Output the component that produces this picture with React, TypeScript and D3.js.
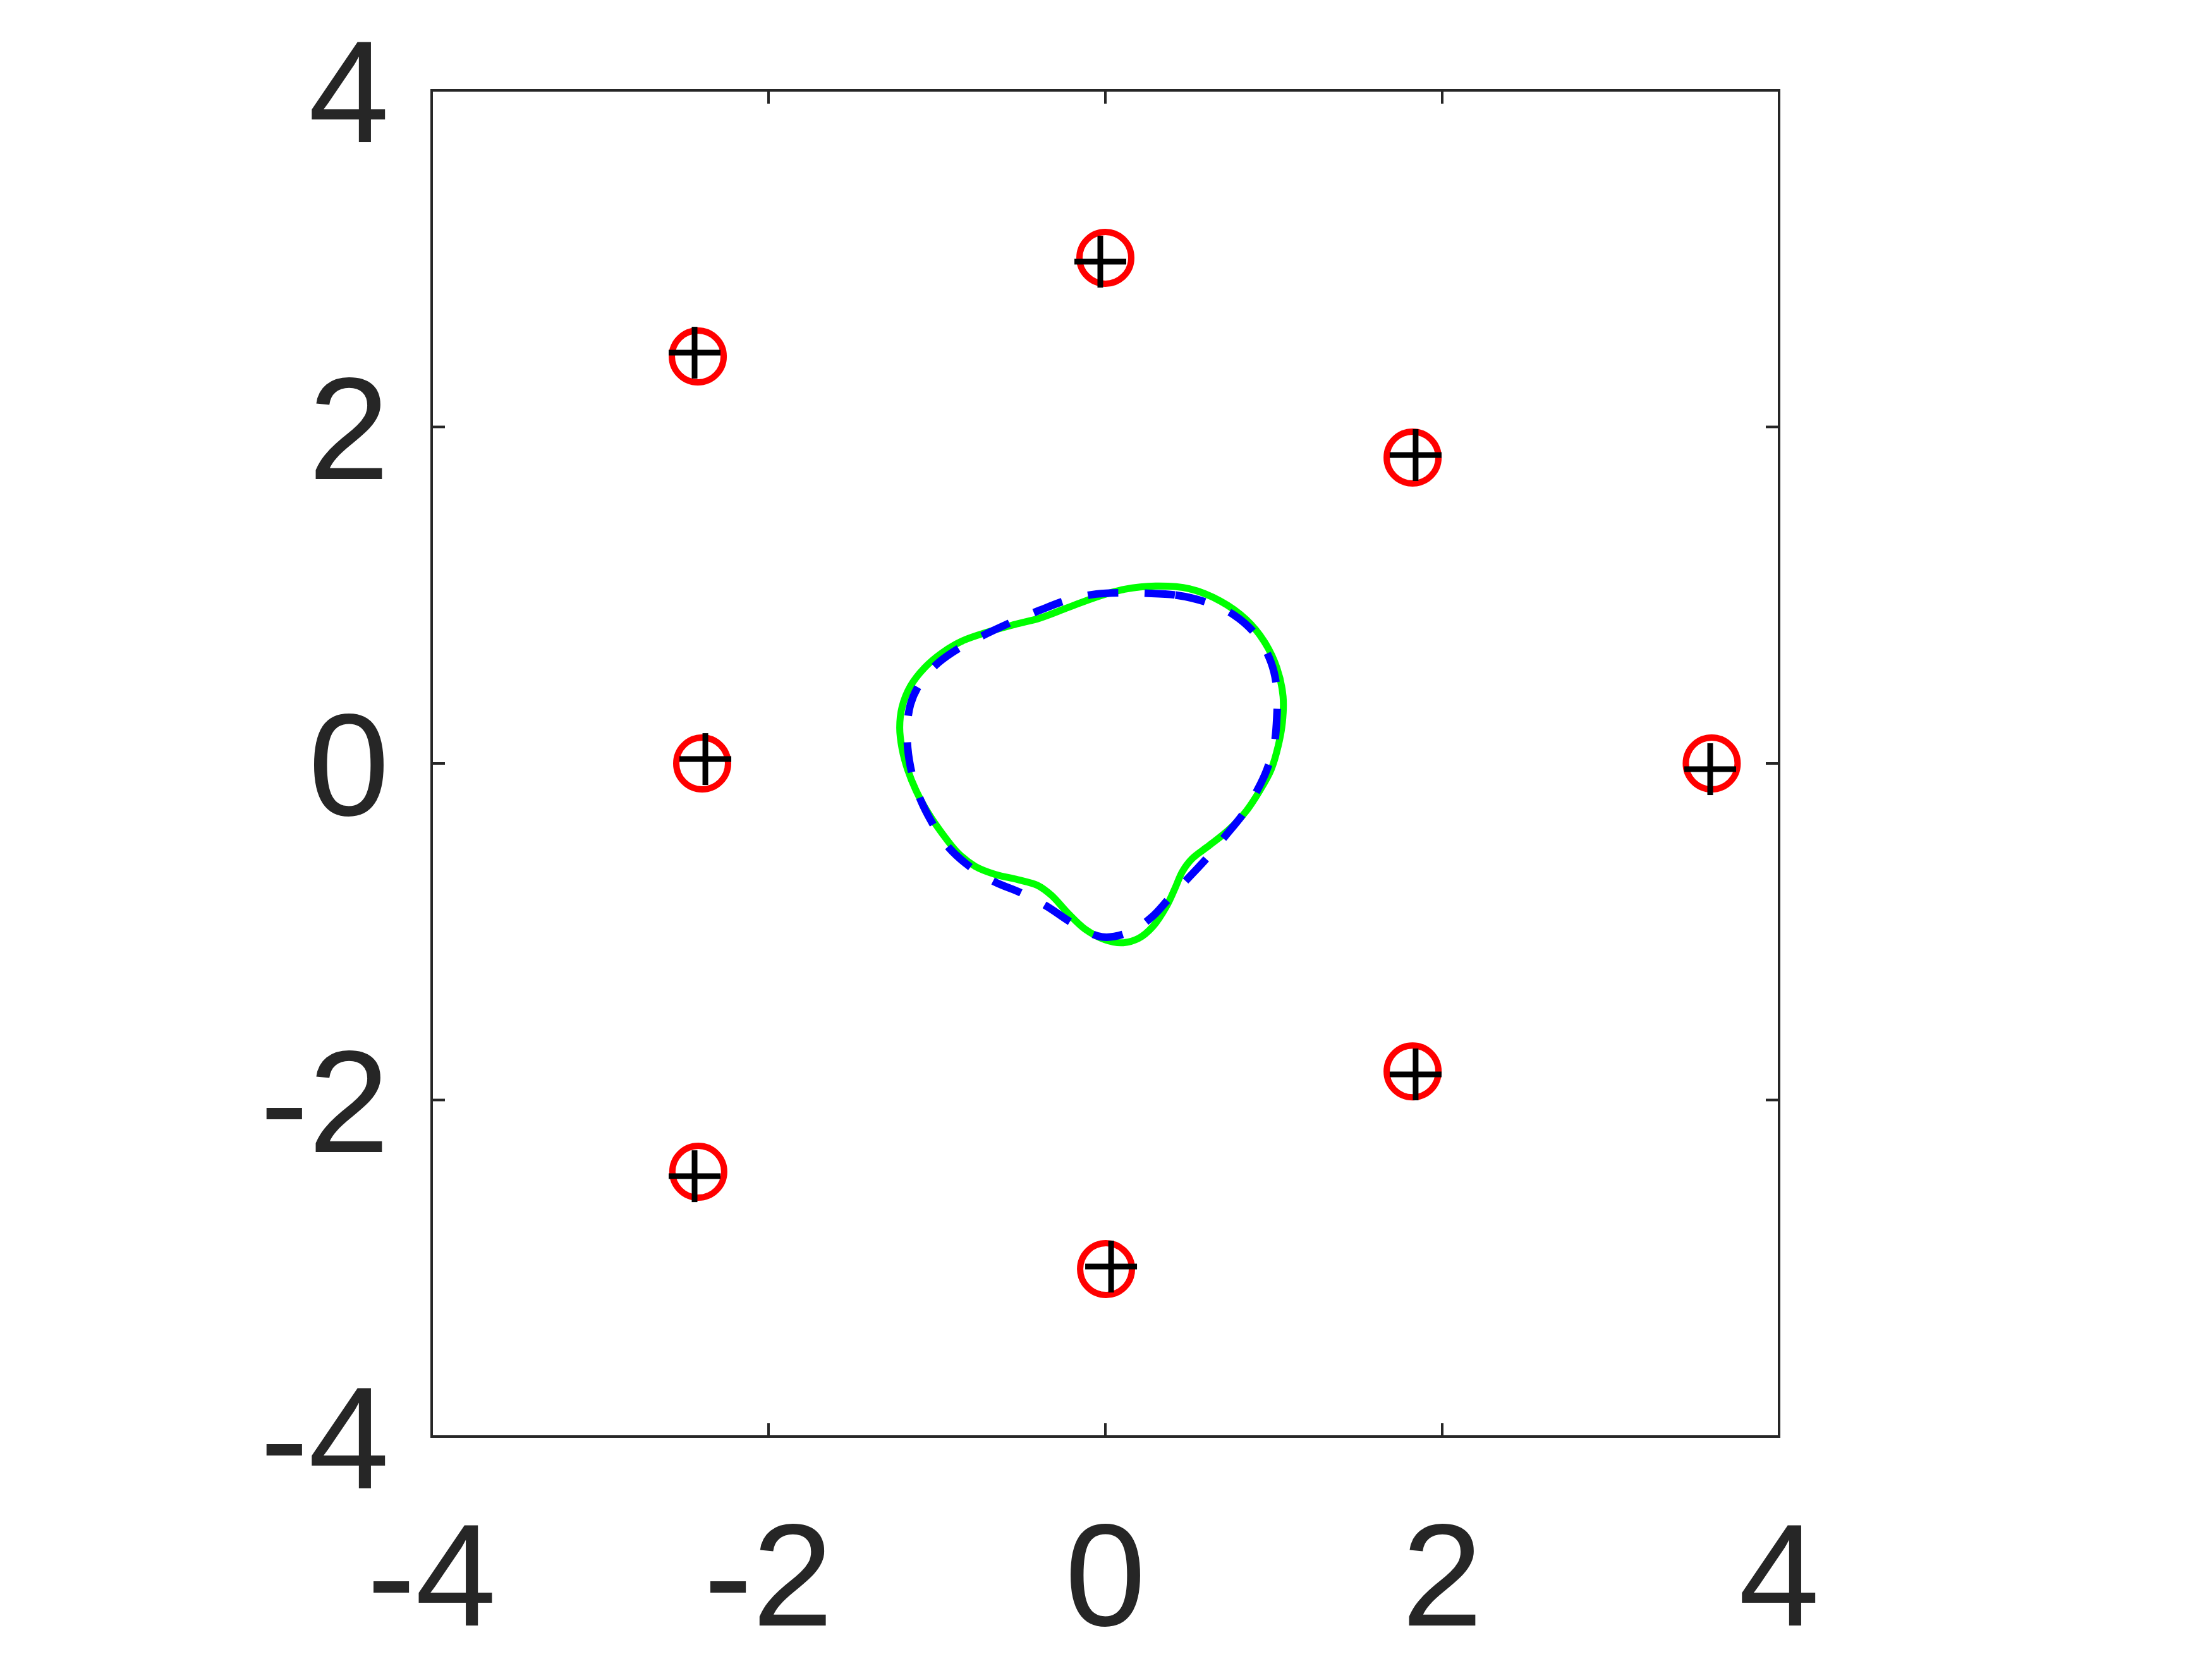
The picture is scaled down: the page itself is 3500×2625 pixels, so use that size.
import React from "react";
import * as d3 from "d3";

const W = 3500;
const H = 2625;

const xTicks = [-4, -2, 0, 2, 4];
const yTicks = [-4, -2, 0, 2, 4];
const xTickLabels = ["-4", "-2", "0", "2", "4"];
const yTickLabels = ["-4", "-2", "0", "2", "4"];

// true source locations (red circles)
const trueX = [0, -2.42, 1.824, 3.6, -2.394, 1.824, -2.417, 0.004];
const trueY = [3.005, 2.419, 1.818, 0, 0, -1.83, -2.426, -3.005];

// estimated source locations (black pluses)
const estX = [-0.03, -2.439, 1.842, 3.591, -2.375, 1.842, -2.439, 0.034];
const estY = [2.982, 2.441, 1.833, -0.034, 0.026, -1.848, -2.453, -2.99];

// reconstructed boundary (green solid)
const recX = [0.298, 0.499, 0.683, 0.834, 0.943, 1.018, 1.055, 1.051, 1.026, 0.984, 0.917, 0.834, 0.733, 0.616, 0.516, 0.457, 0.416, 0.365, 0.282, 0.198, 0.098, -0.003, -0.12, -0.22, -0.321, -0.404, -0.521, -0.655, -0.772, -0.873, -0.973, -1.057, -1.124, -1.174, -1.207, -1.221, -1.207, -1.157, -1.073, -0.973, -0.856, -0.705, -0.538, -0.388, -0.22, -0.053, 0.114];
const recY = [1.054, 1.038, 0.965, 0.857, 0.725, 0.569, 0.398, 0.243, 0.103, -0.037, -0.161, -0.286, -0.394, -0.488, -0.565, -0.643, -0.736, -0.845, -0.969, -1.039, -1.066, -1.047, -0.985, -0.892, -0.783, -0.724, -0.69, -0.659, -0.612, -0.534, -0.41, -0.286, -0.161, -0.037, 0.087, 0.212, 0.336, 0.46, 0.569, 0.655, 0.725, 0.779, 0.826, 0.864, 0.927, 0.989, 1.035];

// exact boundary (blue dashed)
const exactX = [0.232, 0.416, 0.6, 0.767, 0.901, 0.984, 1.018, 1.018, 1.001, 0.959, 0.901, 0.817, 0.717, 0.6, 0.499, 0.382, 0.282, 0.148, -0.019, -0.187, -0.354, -0.505, -0.655, -0.806, -0.94, -1.04, -1.107, -1.157, -1.177, -1.157, -1.09, -0.99, -0.856, -0.705, -0.555, -0.388, -0.22, -0.053, 0.114];
const exactY = [1.012, 1.001, 0.958, 0.88, 0.756, 0.6, 0.445, 0.274, 0.103, -0.037, -0.161, -0.301, -0.425, -0.565, -0.674, -0.798, -0.907, -1.0, -1.031, -0.954, -0.845, -0.767, -0.705, -0.612, -0.488, -0.332, -0.192, -0.021, 0.165, 0.352, 0.491, 0.6, 0.693, 0.771, 0.841, 0.911, 0.973, 1.007, 1.015];

const AX = "#262626";
const FONT = "'Liberation Sans', Arial, Helvetica, sans-serif";

export default function App() {
  const x = d3.scaleLinear().domain([-4, 4]).range([683, 2815]);
  const y = d3.scaleLinear().domain([-4, 4]).range([2273, 143]);
  const tickLen = 21;

  const line = d3
    .line<[number, number]>()
    .x((d) => x(d[0]))
    .y((d) => y(d[1]))
    .curve(d3.curveCatmullRomClosed.alpha(0.5));

  const recPts: [number, number][] = recX.map((v, i) => [v, recY[i]]);
  const exactPts: [number, number][] = exactX.map((v, i) => [v, exactY[i]]);

  const [x0, x1] = x.range();
  const [y0, y1] = y.range();

  return (
    <svg
      width={W}
      height={H}
      style={{ position: "absolute", left: 0, top: 0, background: "#fff" }}
    >
      <rect x={0} y={0} width={W} height={H} fill="#fff" />
      {/* ticks */}
      <g stroke={AX} strokeWidth={4}>
        {xTicks.map((t) => (
          <g key={"xt" + t}>
            <line x1={x(t)} x2={x(t)} y1={y0} y2={y0 - tickLen} />
            <line x1={x(t)} x2={x(t)} y1={y1} y2={y1 + tickLen} />
          </g>
        ))}
        {yTicks.map((t) => (
          <g key={"yt" + t}>
            <line x1={x0} x2={x0 + tickLen} y1={y(t)} y2={y(t)} />
            <line x1={x1} x2={x1 - tickLen} y1={y(t)} y2={y(t)} />
          </g>
        ))}
      </g>
      {/* curves */}
      <path d={line(recPts) || ""} fill="none" stroke="#00ff00" strokeWidth={11} />
      <path
        d={line(exactPts) || ""}
        fill="none"
        stroke="#0000ff"
        strokeWidth={12}
        strokeDasharray="48 42"
      />
      {/* markers */}
      {trueX.map((v, i) => (
        <circle
          key={"c" + i}
          cx={x(v)}
          cy={y(trueY[i])}
          r={41}
          fill="none"
          stroke="#ff0000"
          strokeWidth={10}
        />
      ))}
      {estX.map((v, i) => (
        <g key={"p" + i} stroke="#000" strokeWidth={9}>
          <line x1={x(v) - 41} x2={x(v) + 41} y1={y(estY[i])} y2={y(estY[i])} />
          <line x1={x(v)} x2={x(v)} y1={y(estY[i]) - 41} y2={y(estY[i]) + 41} />
        </g>
      ))}
      {/* frame */}
      <rect
        x={x0}
        y={y1}
        width={x1 - x0}
        height={y0 - y1}
        fill="none"
        stroke={AX}
        strokeWidth={4}
      />
      {/* tick labels */}
      <g fontFamily={FONT} fontSize={230} fill={AX}>
        {xTicks.map((t, i) => (
          <text key={"xl" + t} x={x(t)} y={2572} textAnchor="middle">
            {xTickLabels[i]}
          </text>
        ))}
        {yTicks.map((t, i) => (
          <text key={"yl" + t} x={616} y={y(t) + 82} textAnchor="end">
            {yTickLabels[i]}
          </text>
        ))}
      </g>
    </svg>
  );
}
